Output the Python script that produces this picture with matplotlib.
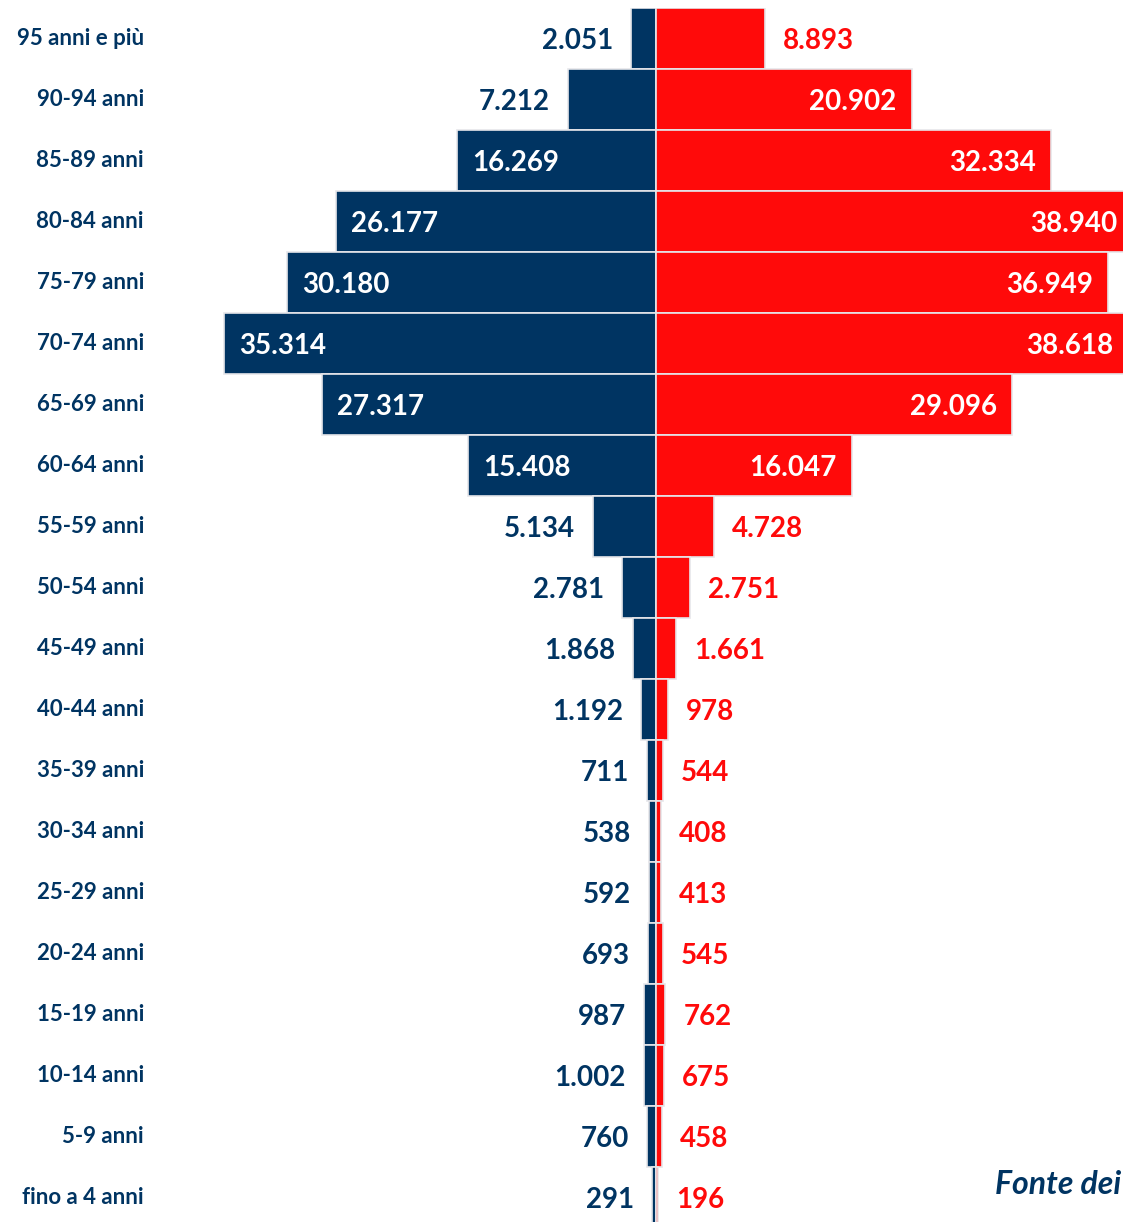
import matplotlib
matplotlib.use("Agg")
import matplotlib.pyplot as plt

categories = ["95 anni e più", "90-94 anni", "85-89 anni", "80-84 anni", "75-79 anni",
              "70-74 anni", "65-69 anni", "60-64 anni", "55-59 anni", "50-54 anni",
              "45-49 anni", "40-44 anni", "35-39 anni", "30-34 anni", "25-29 anni",
              "20-24 anni", "15-19 anni", "10-14 anni", "5-9 anni", "fino a 4 anni"]
maschi = [2051, 7212, 16269, 26177, 30180, 35314, 27317, 15408, 5134, 2781,
          1868, 1192, 711, 538, 592, 693, 987, 1002, 760, 291]
femmine = [8893, 20902, 32334, 38940, 36949, 38618, 29096, 16047, 4728, 2751,
           1661, 978, 544, 408, 413, 545, 762, 675, 458, 196]

BLUE = "#003462"
RED = "#FF0A0A"
FONT = ["Lato", "DejaVu Sans"]

W, H = 1123, 1222
fig = plt.figure(figsize=(W / 100, H / 100), dpi=100)
ax_left_px, zero_px, top_px, bot_px = 160, 656, 8, 1228
scale = 0.01223  # px per unit
ax = fig.add_axes([ax_left_px / W, (H - bot_px) / H, (W - ax_left_px) / W, (bot_px - top_px) / H])
ax.set_xlim(-(zero_px - ax_left_px) / scale, (W - zero_px) / scale)
n = len(categories)
ax.set_ylim(n - 0.5, -0.5)
ax.axis("off")

ys = list(range(n))
ax.barh(ys, [-v for v in maschi], height=1.0, color=BLUE, edgecolor="#e6e6ea", linewidth=1.2)
ax.barh(ys, femmine, height=1.0, color=RED, edgecolor="#e6e6ea", linewidth=1.2)

def fmt(v):
    return f"{v:,}".replace(",", ".")

VS = 20
DY = -1.5
for y, m, f in zip(ys, maschi, femmine):
    if m > 10000:
        ax.annotate(fmt(m), (-m, y), xytext=(11, DY), textcoords="offset points",
                    ha="left", va="center", color="white", fontsize=VS,
                    fontweight="bold", family=FONT)
    else:
        ax.annotate(fmt(m), (-m, y), xytext=(-13, DY), textcoords="offset points",
                    ha="right", va="center", color=BLUE, fontsize=VS,
                    fontweight="bold", family=FONT)
    if f > 10000:
        ax.annotate(fmt(f), (f, y), xytext=(-11, DY), textcoords="offset points",
                    ha="right", va="center", color="white", fontsize=VS,
                    fontweight="bold", family=FONT, annotation_clip=False)
    else:
        ax.annotate(fmt(f), (f, y), xytext=(13, DY), textcoords="offset points",
                    ha="left", va="center", color=RED, fontsize=VS,
                    fontweight="bold", family=FONT)

for y, c in zip(ys, categories):
    ax.annotate(c, (0, y), xycoords=("figure pixels", "data"), xytext=(144, 0),
                textcoords=("figure pixels", "offset points"),
                ha="right", va="center", color=BLUE, fontsize=16,
                fontweight="bold", family=FONT)

fig.text(1121 / W, 1 - 1184 / H, "Fonte dei", ha="right", va="center", color=BLUE,
         fontsize=23, fontweight="bold", fontstyle="italic", family=FONT)

fig.savefig("out.png", dpi=100)
